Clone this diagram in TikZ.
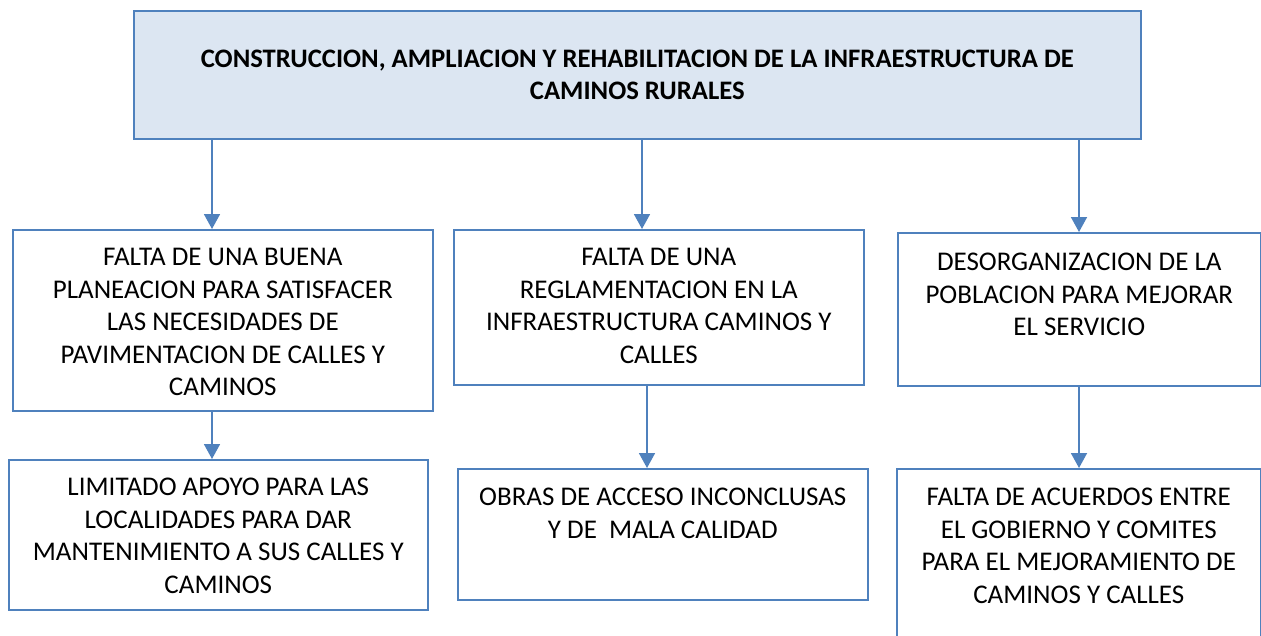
\documentclass[tikz,border=0pt]{standalone}
\usepackage{fontspec}
\setmainfont{Carlito}
\usetikzlibrary{arrows.meta}
\definecolor{bord}{HTML}{4F81BD}
\definecolor{topfill}{HTML}{DCE6F2}
% \bx{width}{height}{first baseline}{font}{text}
\newcommand{\bx}[5]{\parbox[c][#2pt][t]{#1pt}{\centering#4\rule{0pt}{#3pt}#5}}
\newcommand{\bodyfont}{\fontsize{27}{32.5}\selectfont}
\newcommand{\headfont}{\fontsize{26.7}{32}\selectfont\bfseries}
\tikzset{
  box/.style={draw=bord, line width=1.6pt, inner sep=0pt, anchor=north west, fill=white},
  arr/.style={draw=bord, line width=1.8pt, -{Triangle[width=16pt,length=15pt]}}
}
\begin{document}
\begin{tikzpicture}[x=1pt,y=-1pt]
\useasboundingbox (0,0) rectangle (1261,635);
\clip (0,0) rectangle (1261,635);
\node[box, fill=topfill] (top) at (133,10) {\bx{1007}{128}{57}{\headfont}{CONSTRUCCION, AMPLIACION Y REHABILITACION DE LA INFRAESTRUCTURA DE\\CAMINOS RURALES}};
\node[box] (L1) at (12,229) {\bx{420}{181}{36}{\bodyfont}{FALTA DE UNA BUENA\\PLANEACION PARA SATISFACER\\LAS NECESIDADES DE\\PAVIMENTACION DE CALLES Y\\CAMINOS}};
\node[box] (M1) at (453,229) {\bx{410}{155}{36}{\bodyfont}{FALTA DE UNA\\REGLAMENTACION EN LA\\INFRAESTRUCTURA CAMINOS Y\\CALLES}};
\node[box] (R1) at (897,232) {\bx{363}{153}{38}{\bodyfont}{DESORGANIZACION DE LA\\POBLACION PARA MEJORAR\\EL SERVICIO}};
\node[box] (L2) at (8,459) {\bx{419}{150}{36}{\bodyfont}{LIMITADO APOYO PARA LAS\\LOCALIDADES PARA DAR\\MANTENIMIENTO A SUS CALLES Y\\CAMINOS}};
\node[box] (M2) at (457,468) {\bx{410}{131}{37}{\bodyfont}{OBRAS DE ACCESO INCONCLUSAS\\Y DE~ MALA CALIDAD}};
\node[box] (R2) at (896,468) {\bx{364}{180}{37}{\bodyfont}{FALTA DE ACUERDOS ENTRE\\EL GOBIERNO Y COMITES\\PARA EL MEJORAMIENTO DE\\CAMINOS Y CALLES}};
\draw[arr] (212,0 |- top.south) -- (212,0 |- L1.north);
\draw[arr] (642,0 |- top.south) -- (642,0 |- M1.north);
\draw[arr] (1079,0 |- top.south) -- (1079,0 |- R1.north);
\draw[arr] (212,0 |- L1.south) -- (212,0 |- L2.north);
\draw[arr] (647,0 |- M1.south) -- (647,0 |- M2.north);
\draw[arr] (1079,0 |- R1.south) -- (1079,0 |- R2.north);
\end{tikzpicture}
\end{document}
